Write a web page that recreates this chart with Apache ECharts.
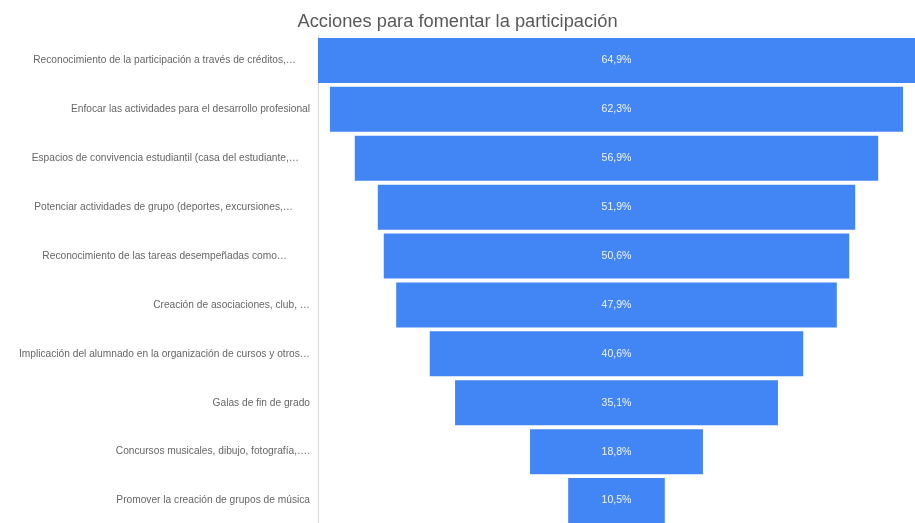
<!DOCTYPE html>
<html>
<head>
<meta charset="utf-8">
<style>
  html, body { margin: 0; padding: 0; background: #fff; }
  #chart { width: 915px; height: 523px; }
</style>
<script src="https://cdn.jsdelivr.net/npm/echarts@6/dist/echarts.min.js"></script>
</head>
<body>
<div id="chart"></div>
<script>
// categorias y porcentajes (embudo)
var categories = [
  'Reconocimiento de la participación a través de créditos,…',
  'Enfocar las actividades para el desarrollo profesional',
  'Espacios de convivencia estudiantil (casa del estudiante,…',
  'Potenciar actividades de grupo (deportes, excursiones,…',
  'Reconocimiento de las tareas desempeñadas como…',
  'Creación de asociaciones, club, …',
  'Implicación del alumnado en la organización de cursos y otros…',
  'Galas de fin de grado',
  'Concursos musicales, dibujo, fotografía,….',
  'Promover la creación de grupos de música'
];
var values = [64.9, 62.3, 56.9, 51.9, 50.6, 47.9, 40.6, 35.1, 18.8, 10.5];

var maxVal = Math.max.apply(null, values);
// barra invisible para centrar cada barra
var offsets = values.map(function (v) { return (maxVal - v) / 2; });

// hueco a la derecha de las etiquetas recortadas
var labelPad = [14, 0, 11, 17, 23, 0, 0, 0, 0, 0];
var rich = {};
labelPad.forEach(function (p, i) {
  rich['r' + i] = {
    fontFamily: 'Liberation Sans, Arial',
    fontSize: 10.2,
    color: '#666666',
    padding: [0, p, 0, 0]
  };
});

var myChart = echarts.init(document.getElementById('chart'));
var option = {
  title: {
    text: 'Acciones para fomentar la participación',
    left: 'center',
    top: 8,
    textStyle: {
      fontFamily: 'Liberation Sans, Arial',
      fontSize: 18.3,
      fontWeight: 'normal',
      color: '#595959'
    }
  },
  grid: {
    left: 318,
    right: 0,
    top: 36,
    height: 489,
    containLabel: false,
    outerBoundsMode: 'none'
  },
  xAxis: {
    type: 'value',
    min: 0,
    max: maxVal,
    show: false
  },
  yAxis: {
    type: 'category',
    inverse: true,
    data: categories,
    axisLine: { show: true, lineStyle: { color: '#d9d9d9', width: 1 } },
    axisTick: { show: false },
    axisLabel: {
      margin: 8,
      fontFamily: 'Liberation Sans, Arial',
      fontSize: 10.2,
      color: '#666666',
      formatter: function (value, index) {
        return '{r' + index + '|' + value + '}';
      },
      rich: rich
    }
  },
  series: [
    {
      type: 'bar',
      stack: 'f',
      data: offsets,
      itemStyle: { color: 'transparent' },
      silent: true,
      barCategoryGap: '8%'
    },
    {
      type: 'bar',
      stack: 'f',
      data: values,
      barCategoryGap: '8%',
      itemStyle: { color: '#4285f4' },
      label: {
        show: true,
        position: 'inside',
        fontFamily: 'Liberation Sans, Arial',
        fontSize: 10.5,
        color: '#f0f4fe',
        formatter: function (p) { return p.value.toFixed(1).replace('.', ',') + '%'; }
      }
    }
  ]
};
myChart.setOption(option);
</script>
</body>
</html>
